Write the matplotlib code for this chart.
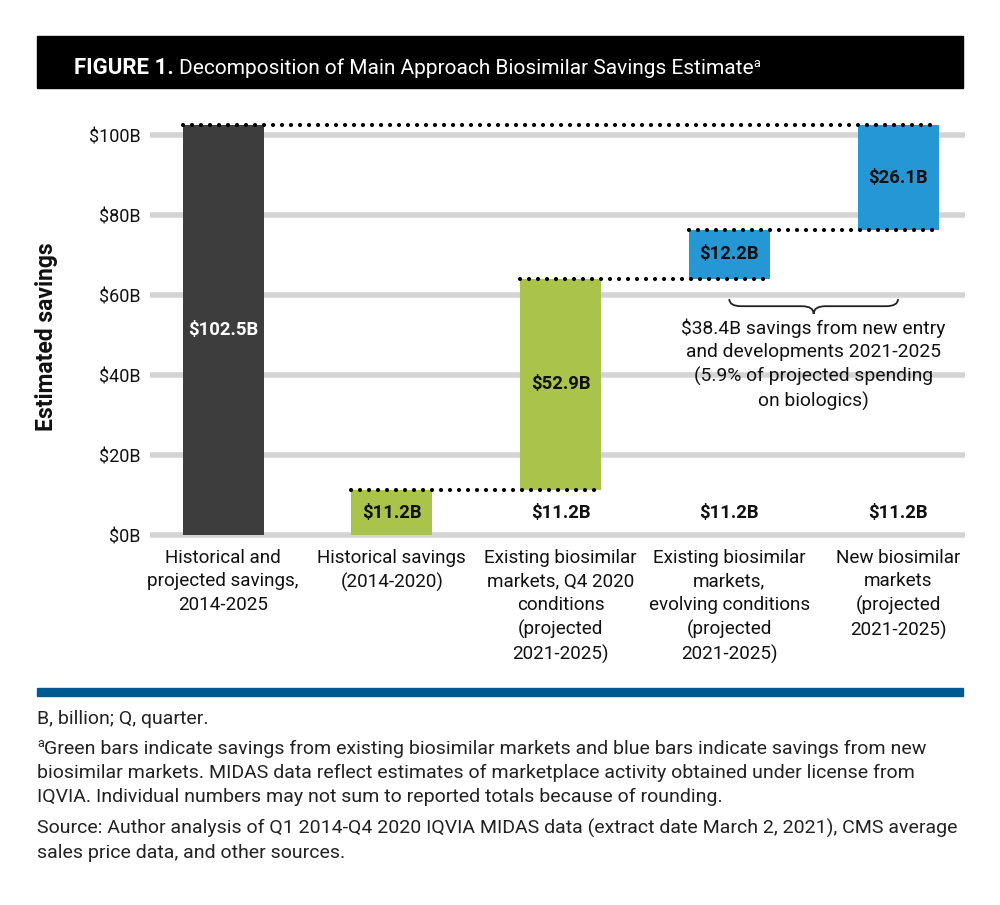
import matplotlib
matplotlib.use("Agg")
import matplotlib.pyplot as plt
from matplotlib.patches import Rectangle, PathPatch
from matplotlib.path import Path

# ---- data ----
categories = [
    "Historical and\nprojected savings,\n2014-2025",
    "Historical savings\n(2014-2020)",
    "Existing biosimilar\nmarkets, Q4 2020\nconditions\n(projected\n2021-2025)",
    "Existing biosimilar\nmarkets,\nevolving conditions\n(projected\n2021-2025)",
    "New biosimilar\nmarkets\n(projected\n2021-2025)",
]
bar_bottoms = [0, 0, 11.2, 64.1, 76.3]
bar_values = [102.5, 11.2, 52.9, 12.2, 26.1]
value_labels = ["$102.5B", "$11.2B", "$52.9B", "$12.2B", "$26.1B"]
base_value = 11.2
base_label = "$11.2B"
connector_ends = [4, 2, 3, 4]   # dotted line from top of bar i runs to bar connector_ends[i]
y_ticks = [0, 20, 40, 60, 80, 100]
brace_text = ("$38.4B savings from new entry\nand developments 2021-2025\n"
              "(5.9% of projected spending\non biologics)")

bar_colors = ["#3d3d3d", "#aac34a", "#aac34a", "#2697d5", "#2697d5"]
label_colors = ["white", "#111111", "#111111", "#111111", "#111111"]

FONT = ["Roboto", "DejaVu Sans"]
plt.rcParams["font.family"] = FONT

W, H = 1000, 905
fig = plt.figure(figsize=(W / 100, H / 100), dpi=100)


def fx(px):
    return px / W


def fy(py):
    return 1 - py / H


# axes placed in pixel terms: x from 150 to 965, y 0 at 535 px, 4 px per unit
bw = 0.48
xlim = (-0.433, 4.397)
ylim = (-2, 108)
ax = fig.add_axes([fx(150), fy(543), fx(965) - fx(150), (440) / H])
ax.set_xlim(*xlim)
ax.set_ylim(*ylim)

x = list(range(len(categories)))
ax.bar(x, bar_values, bottom=bar_bottoms, width=bw, color=bar_colors, zorder=2)

for xi, b, v, lab, c in zip(x, bar_bottoms, bar_values, value_labels, label_colors):
    ax.text(xi, b + v / 2, lab, ha="center", va="center", color=c,
            fontsize=13.3, fontweight="bold", zorder=4)
for xi in x[2:]:
    ax.text(xi, base_value / 2, base_label, ha="center", va="center",
            color="#111111", fontsize=13.3, fontweight="bold", zorder=4)

# dotted connectors
for i, j in enumerate(connector_ends):
    level = bar_bottoms[i] + bar_values[i]
    ax.plot([x[i] - bw / 2, x[j] + bw / 2], [level, level], color="black",
            lw=3.0, linestyle=(0, (0.01, 2.15)), dash_capstyle="round", zorder=5)

# brace under bars 3-4 region
xa, xb = x[3], x[4]
xm = (xa + xb) / 2
yt, ym, yb = 59.0, 57.2, 55.3
d = 0.07
verts = [(xa, yt), (xa, ym), (xa + d, ym), (xm - d, ym), (xm, ym), (xm, yb),
         (xm, ym), (xm + d, ym), (xb - d, ym), (xb, ym), (xb, yt)]
codes = [Path.MOVETO, Path.CURVE3, Path.CURVE3, Path.LINETO, Path.CURVE3, Path.CURVE3,
         Path.CURVE3, Path.CURVE3, Path.LINETO, Path.CURVE3, Path.CURVE3]
ax.add_patch(PathPatch(Path(verts, codes), fill=False, lw=1.3, ec="#222222", zorder=4))
ax.text(xm, 54.2, brace_text, ha="center", va="top", fontsize=13.9,
        color="#111111", linespacing=1.38, zorder=4)

# axes styling
ax.set_yticks(y_ticks)
ax.set_yticklabels([f"${v}B" for v in y_ticks], fontsize=13, color="#111111")
ax.set_xticks(x)
ax.set_xticklabels(categories, fontsize=13.6, color="#111111", linespacing=1.4)
ax.tick_params(axis="both", length=0)
ax.tick_params(axis="y", pad=7)
ax.tick_params(axis="x", pad=4)
ax.yaxis.grid(True, color="#d4d4d4", lw=4)
ax.set_axisbelow(True)
for s in ax.spines.values():
    s.set_visible(False)

fig.text(fx(47), fy(337), "Estimated savings", rotation=90, ha="center", va="center",
         fontsize=16.5, fontweight="bold", color="#111111")

# title bar
fig.patches.append(Rectangle((fx(37), fy(88)), fx(963) - fx(37), 52 / H,
                             transform=fig.transFigure, color="black", zorder=0))
renderer = fig.canvas.get_renderer()


def run_text(pieces, x0, y0):
    # place text pieces one after another on one line (figure pixel coords)
    xpos = x0
    for s, kw in pieces:
        dy = kw.pop("dy", 0)
        t = fig.text(fx(xpos), fy(y0 - dy), s, va="baseline", ha="left", **kw)
        xpos += t.get_window_extent(renderer).width
    return xpos


run_text([("FIGURE 1. ", dict(fontsize=16, fontweight="bold", color="white")),
          ("Decomposition of Main Approach Biosimilar Savings Estimate",
           dict(fontsize=15, color="white")),
          ("a", dict(fontsize=9, color="white", dy=7))], 74, 74)

# blue rule
fig.patches.append(Rectangle((fx(37), fy(696)), fx(963) - fx(37), 8 / H,
                             transform=fig.transFigure, color="#005a8f", zorder=0))

note_kw = dict(fontsize=14, color="#222222")
fig.text(fx(37), fy(724), "B, billion; Q, quarter.", va="baseline", **note_kw)
run_text([("a", dict(fontsize=9, color="#222222", dy=7)),
          ("Green bars indicate savings from existing biosimilar markets and blue bars "
           "indicate savings from new", dict(note_kw))], 37, 754)
fig.text(fx(37), fy(778), "biosimilar markets. MIDAS data reflect estimates of marketplace "
         "activity obtained under license from", va="baseline", **note_kw)
fig.text(fx(37), fy(802), "IQVIA. Individual numbers may not sum to reported totals "
         "because of rounding.", va="baseline", **note_kw)
fig.text(fx(37), fy(834), "Source: Author analysis of Q1 2014-Q4 2020 IQVIA MIDAS data "
         "(extract date March 2, 2021), CMS average", va="baseline", **note_kw)
fig.text(fx(37), fy(858), "sales price data, and other sources.", va="baseline", **note_kw)

fig.savefig("out.png", dpi=100, facecolor="white")
